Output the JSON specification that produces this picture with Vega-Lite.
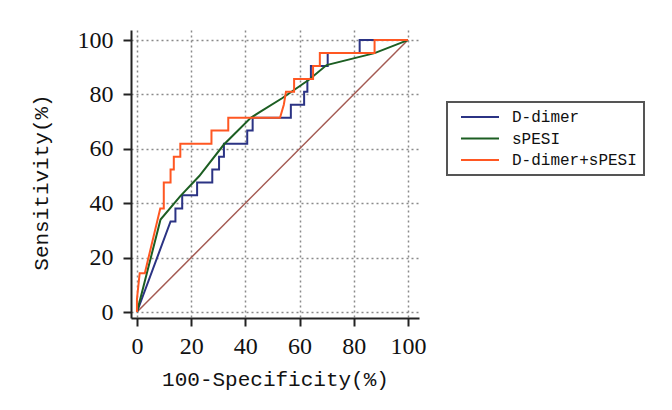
{
  "$schema": "https://vega.github.io/schema/vega-lite/v6.json",
  "autosize": "none",
  "width": 288,
  "height": 288,
  "padding": {"left": 131, "top": 30, "right": 253, "bottom": 92},
  "background": "white",
  "config": {"view": {"stroke": null}},
  "datasets": {
    "ref": [{"x": 0, "y": 0}, {"x": 100, "y": 100}],
    "roc": [
      {"series": "D-dimer", "i": 0, "x": 0, "y": 0},
      {"series": "D-dimer", "i": 1, "x": 12.4, "y": 33.3},
      {"series": "D-dimer", "i": 2, "x": 14.2, "y": 33.3},
      {"series": "D-dimer", "i": 3, "x": 14.2, "y": 38.1},
      {"series": "D-dimer", "i": 4, "x": 16.7, "y": 38.1},
      {"series": "D-dimer", "i": 5, "x": 16.7, "y": 42.9},
      {"series": "D-dimer", "i": 6, "x": 22.2, "y": 42.9},
      {"series": "D-dimer", "i": 7, "x": 22.2, "y": 47.6},
      {"series": "D-dimer", "i": 8, "x": 27.8, "y": 47.6},
      {"series": "D-dimer", "i": 9, "x": 27.8, "y": 52.4},
      {"series": "D-dimer", "i": 10, "x": 30.3, "y": 52.4},
      {"series": "D-dimer", "i": 11, "x": 30.3, "y": 57.1},
      {"series": "D-dimer", "i": 12, "x": 32.1, "y": 57.1},
      {"series": "D-dimer", "i": 13, "x": 32.1, "y": 61.9},
      {"series": "D-dimer", "i": 14, "x": 40.7, "y": 61.9},
      {"series": "D-dimer", "i": 15, "x": 40.7, "y": 66.7},
      {"series": "D-dimer", "i": 16, "x": 42.7, "y": 66.7},
      {"series": "D-dimer", "i": 17, "x": 42.7, "y": 71.4},
      {"series": "D-dimer", "i": 18, "x": 56.8, "y": 71.4},
      {"series": "D-dimer", "i": 19, "x": 56.8, "y": 76.2},
      {"series": "D-dimer", "i": 20, "x": 61.7, "y": 76.2},
      {"series": "D-dimer", "i": 21, "x": 61.7, "y": 81.0},
      {"series": "D-dimer", "i": 22, "x": 62.9, "y": 81.0},
      {"series": "D-dimer", "i": 23, "x": 62.9, "y": 85.7},
      {"series": "D-dimer", "i": 24, "x": 64.2, "y": 85.7},
      {"series": "D-dimer", "i": 25, "x": 64.2, "y": 90.5},
      {"series": "D-dimer", "i": 26, "x": 70.4, "y": 90.5},
      {"series": "D-dimer", "i": 27, "x": 70.4, "y": 95.2},
      {"series": "D-dimer", "i": 28, "x": 82.2, "y": 95.2},
      {"series": "D-dimer", "i": 29, "x": 82.2, "y": 100},
      {"series": "D-dimer", "i": 30, "x": 100, "y": 100},
      {"series": "sPESI", "i": 0, "x": 0, "y": 0},
      {"series": "sPESI", "i": 1, "x": 8.7, "y": 34},
      {"series": "sPESI", "i": 2, "x": 16, "y": 42.6},
      {"series": "sPESI", "i": 3, "x": 23, "y": 50},
      {"series": "sPESI", "i": 4, "x": 32, "y": 61.5},
      {"series": "sPESI", "i": 5, "x": 42, "y": 71.4},
      {"series": "sPESI", "i": 6, "x": 45, "y": 73.3},
      {"series": "sPESI", "i": 7, "x": 53.7, "y": 78.7},
      {"series": "sPESI", "i": 8, "x": 63.6, "y": 85.5},
      {"series": "sPESI", "i": 9, "x": 70, "y": 90.8},
      {"series": "sPESI", "i": 10, "x": 87.7, "y": 95.2},
      {"series": "sPESI", "i": 11, "x": 100, "y": 100},
      {"series": "D-dimer+sPESI", "i": 0, "x": 0, "y": 0},
      {"series": "D-dimer+sPESI", "i": 1, "x": 0, "y": 4.8},
      {"series": "D-dimer+sPESI", "i": 2, "x": 1, "y": 14.3},
      {"series": "D-dimer+sPESI", "i": 3, "x": 2.9, "y": 14.3},
      {"series": "D-dimer+sPESI", "i": 4, "x": 8.6, "y": 38.1},
      {"series": "D-dimer+sPESI", "i": 5, "x": 9.9, "y": 38.1},
      {"series": "D-dimer+sPESI", "i": 6, "x": 9.9, "y": 47.6},
      {"series": "D-dimer+sPESI", "i": 7, "x": 12.4, "y": 47.6},
      {"series": "D-dimer+sPESI", "i": 8, "x": 12.4, "y": 52.4},
      {"series": "D-dimer+sPESI", "i": 9, "x": 13.6, "y": 52.4},
      {"series": "D-dimer+sPESI", "i": 10, "x": 13.6, "y": 57.1},
      {"series": "D-dimer+sPESI", "i": 11, "x": 16, "y": 57.1},
      {"series": "D-dimer+sPESI", "i": 12, "x": 16, "y": 61.9},
      {"series": "D-dimer+sPESI", "i": 13, "x": 27.5, "y": 61.9},
      {"series": "D-dimer+sPESI", "i": 14, "x": 27.5, "y": 66.7},
      {"series": "D-dimer+sPESI", "i": 15, "x": 33.7, "y": 66.7},
      {"series": "D-dimer+sPESI", "i": 16, "x": 33.7, "y": 71.4},
      {"series": "D-dimer+sPESI", "i": 17, "x": 52.8, "y": 71.4},
      {"series": "D-dimer+sPESI", "i": 18, "x": 54.2, "y": 76.2},
      {"series": "D-dimer+sPESI", "i": 19, "x": 55, "y": 81.0},
      {"series": "D-dimer+sPESI", "i": 20, "x": 58, "y": 81.0},
      {"series": "D-dimer+sPESI", "i": 21, "x": 58, "y": 85.7},
      {"series": "D-dimer+sPESI", "i": 22, "x": 65, "y": 85.7},
      {"series": "D-dimer+sPESI", "i": 23, "x": 65, "y": 90.5},
      {"series": "D-dimer+sPESI", "i": 24, "x": 67.5, "y": 90.5},
      {"series": "D-dimer+sPESI", "i": 25, "x": 67.5, "y": 95.2},
      {"series": "D-dimer+sPESI", "i": 26, "x": 87.7, "y": 95.2},
      {"series": "D-dimer+sPESI", "i": 27, "x": 87.7, "y": 100},
      {"series": "D-dimer+sPESI", "i": 28, "x": 100, "y": 100}
    ]
  },
  "encoding": {
    "x": {
      "field": "x", "type": "quantitative",
      "scale": {"domain": [-2.2, 104.1], "nice": false, "zero": false},
      "axis": {
        "title": "100-Specificity(%)",
        "values": [0, 20, 40, 60, 80, 100],
        "grid": true, "gridColor": "#8a8a8a", "gridDash": [2, 3], "gridWidth": 1.5, "gridOpacity": 1,
        "domainColor": "#222", "domainWidth": 2,
        "tickColor": "#222", "tickWidth": 2, "tickSize": 8,
        "labelFont": "Liberation Serif", "labelFontSize": 24, "labelColor": "#111", "labelPadding": 8,
        "titleFont": "Liberation Mono", "titleFontSize": 21, "titleFontWeight": "normal", "titleColor": "#111", "titlePadding": 10
      }
    },
    "y": {
      "field": "y", "type": "quantitative",
      "scale": {"domain": [-2.2, 103.7], "nice": false, "zero": false},
      "axis": {
        "title": "Sensitivity(%)",
        "values": [0, 20, 40, 60, 80, 100],
        "grid": true, "gridColor": "#8a8a8a", "gridDash": [2, 3], "gridWidth": 1.5, "gridOpacity": 1,
        "domainColor": "#222", "domainWidth": 2,
        "tickColor": "#222", "tickWidth": 2, "tickSize": 8,
        "labelFont": "Liberation Serif", "labelFontSize": 24, "labelColor": "#111", "labelPadding": 10,
        "titleFont": "Liberation Mono", "titleFontSize": 21, "titleFontWeight": "normal", "titleColor": "#111", "titlePadding": 26,
        "titleY": 152
      }
    }
  },
  "layer": [
    {
      "data": {"name": "ref"},
      "mark": {"type": "line", "color": "#a45a52", "strokeWidth": 1.5}
    },
    {
      "data": {"name": "roc"},
      "mark": {"type": "line", "strokeWidth": 2},
      "encoding": {
        "color": {
          "field": "series", "type": "nominal",
          "scale": {"domain": ["D-dimer", "sPESI", "D-dimer+sPESI"], "range": ["#2b3384", "#1c5e22", "#ff5722"]},
          "legend": {
            "orient": "none", "legendX": 316, "legendY": 72, "title": null,
            "symbolType": "stroke", "symbolSize": 1444, "symbolStrokeWidth": 2, "symbolOffset": 6,
            "labelFont": "Liberation Mono", "labelFontSize": 16, "labelColor": "#111", "labelOffset": 12,
            "padding": 7, "strokeColor": "#555", "fillColor": "white", "rowPadding": 5.5, "clipHeight": 16,
            "encode": {"legend": {"update": {"strokeWidth": {"value": 2}}}}
          }
        },
        "order": {"field": "i", "type": "quantitative"}
      }
    }
  ]
}
